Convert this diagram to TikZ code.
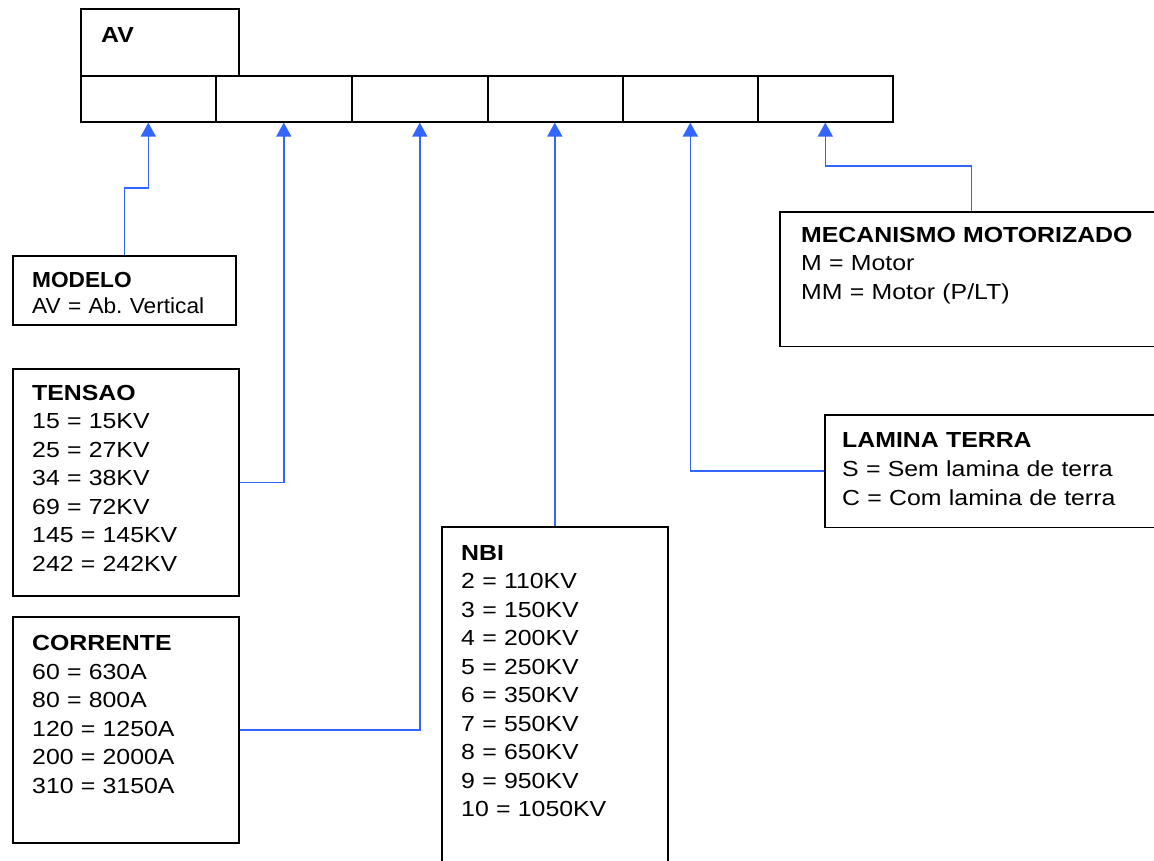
\documentclass[tikz,border=0pt]{standalone}
\usepackage{fontspec}
\setmainfont{Liberation Sans}[FakeStretch=1.14]
\newfontfamily\narrowsans{Liberation Sans}[FakeStretch=1.04]
\usetikzlibrary{arrows.meta}
\definecolor{connblue}{RGB}{51,102,255}
\tikzset{
  bx/.style={draw=black, line width=1.6pt, inner sep=0pt, anchor=north west, rectangle},
  txt/.style={anchor=base west, inner sep=0pt, align=left, text width=420pt, font=\fontsize{21.8}{28.5}\selectfont\frenchspacing},
  conn/.style={draw=connblue, line width=1.5pt, -{Triangle[width=15pt,length=14pt]}},
}
\begin{document}
\begin{tikzpicture}[x=1pt,y=-1pt]
\useasboundingbox (0,0) rectangle (1154,860);
\clip (0,0) rectangle (1154,860);
% header
\node[bx, minimum width=158pt, minimum height=67pt] (av) at (80,8) {};
\node[txt] (tav) at (101,42) {\textbf{AV}};
\node[bx, minimum width=135pt, minimum height=46pt] (c1) at (80,75) {};
\node[bx, minimum width=136pt, minimum height=46pt] (c2) at (215,75) {};
\node[bx, minimum width=136pt, minimum height=46pt] (c3) at (351,75) {};
\node[bx, minimum width=135pt, minimum height=46pt] (c4) at (487,75) {};
\node[bx, minimum width=135pt, minimum height=46pt] (c5) at (622,75) {};
\node[bx, minimum width=135pt, minimum height=46pt] (c6) at (757,75) {};
% boxes
\node[bx, minimum width=223pt, minimum height=69pt] (modelo) at (12,255) {};
\node[txt, font=\fontsize{21.8}{26}\narrowsans\frenchspacing] (tmodelo) at (32,287) {\textbf{MODELO}\\AV = Ab. Vertical};
\node[bx, minimum width=226pt, minimum height=227pt] (tensao) at (12,368) {};
\node[txt] (ttensao) at (32,400) {\textbf{TENSAO}\\15 = 15KV\\25 = 27KV\\34 = 38KV\\69 = 72KV\\145 = 145KV\\242 = 242KV};
\node[bx, minimum width=226pt, minimum height=226pt] (corrente) at (12,616) {};
\node[txt] (tcorrente) at (32,650.5) {\textbf{CORRENTE}\\60 = 630A\\80 = 800A\\120 = 1250A\\200 = 2000A\\310 = 3150A};
\node[bx, minimum width=226pt, minimum height=350pt] (nbi) at (441,526) {};
\node[txt] (tnbi) at (461,560) {\textbf{NBI}\\2 = 110KV\\3 = 150KV\\4 = 200KV\\5 = 250KV\\6 = 350KV\\7 = 550KV\\8 = 650KV\\9 = 950KV\\10 = 1050KV};
\node[bx, minimum width=338pt, minimum height=112.7pt] (lamina) at (824,414) {};
\node[txt, font=\fontsize{21.8}{29}\selectfont\frenchspacing] (tlamina) at (842,447) {\textbf{LAMINA TERRA}\\S = Sem lamina de terra\\C = Com lamina de terra};
\node[bx, minimum width=383pt, minimum height=134.7pt] (mec) at (779,211) {};
\node[txt] (tmec) at (801,242) {\textbf{MECANISMO MOTORIZADO}\\M = Motor\\MM = Motor (P/LT)};
% connectors
\draw[conn] (modelo.north) -- ++(0,-67) -| (c1.south);
\draw[conn] (tensao.east) -| (c2.south);
\draw[conn] (corrente.east) -| (c3.south);
\draw[conn] (nbi.north) -- (nbi.north |- c4.south);
\draw[conn] (lamina.west) -| (c5.south);
\draw[conn] (mec.north) -- ++(0,-45) -| (c6.south);
\end{tikzpicture}
\end{document}
